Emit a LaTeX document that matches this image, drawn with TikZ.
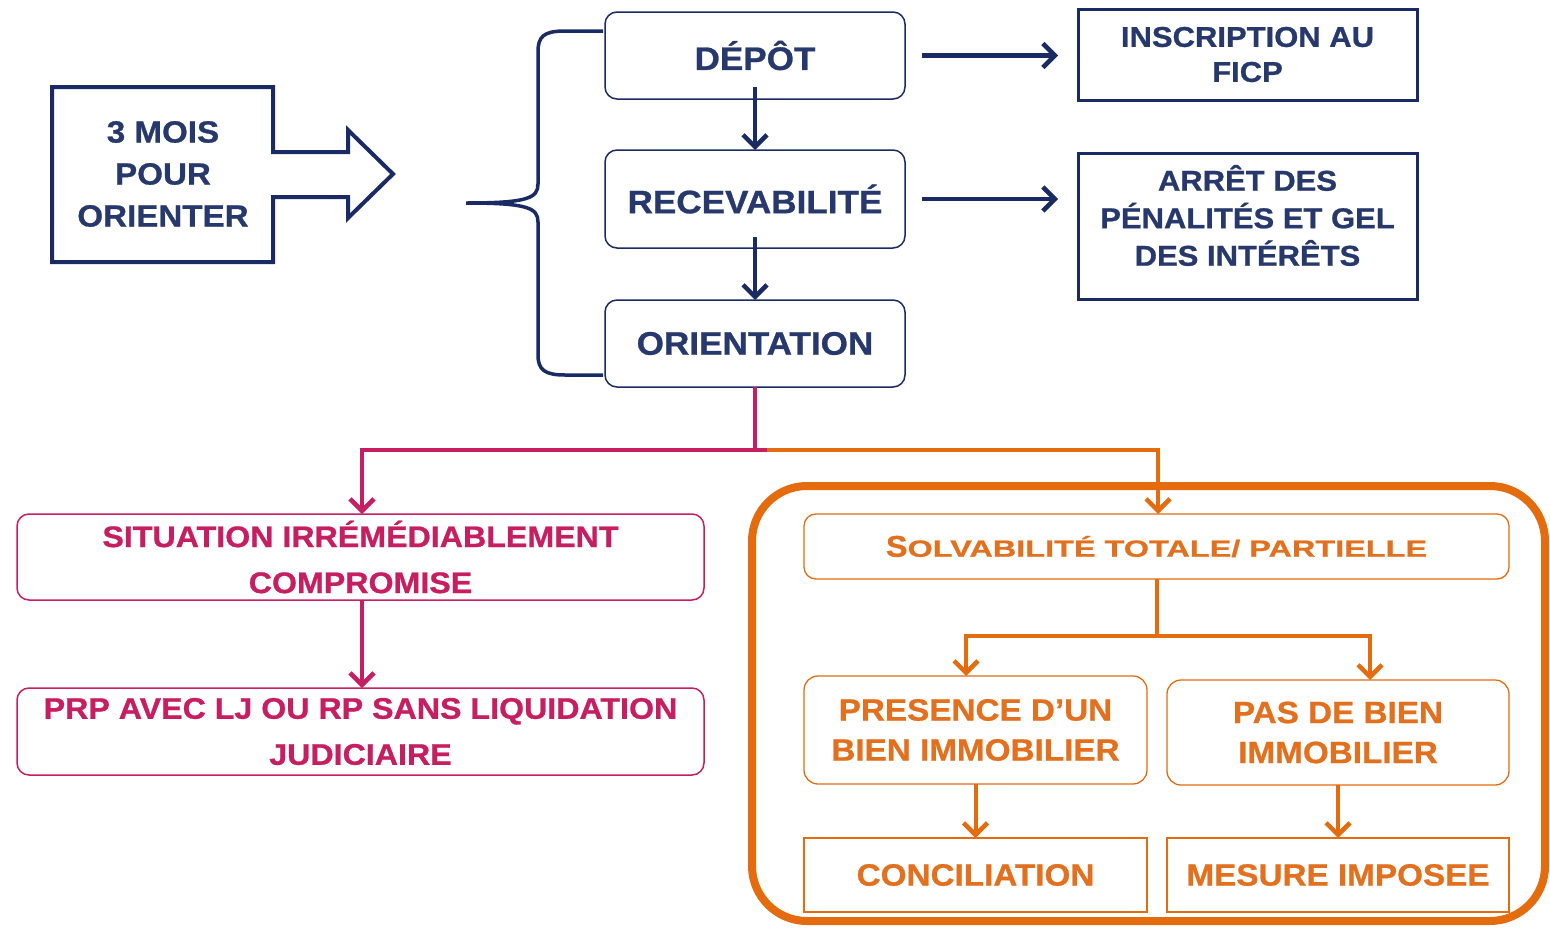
\documentclass[tikz,border=0pt]{standalone}
\usepackage{fontspec}
\setmainfont{Liberation Sans}
\newfontfamily\fB{Liberation Sans}[FakeStretch=1.08, BoldFeatures={FakeBold=0.8}]
\newfontfamily\fW{Liberation Sans}[FakeStretch=1.38, BoldFeatures={FakeBold=0.8}]
\usetikzlibrary{arrows.meta}
\definecolor{navyL}{RGB}{26,42,100}
\definecolor{navyT}{RGB}{38,56,108}
\definecolor{mag}{RGB}{198,30,96}
\definecolor{org}{RGB}{228,108,14}
\definecolor{orgT}{RGB}{226,112,30}
\tikzset{
  fs/.style 2 args={font=\fB\bfseries\fontsize{#1}{#2}\selectfont},
  basebox/.style={inner sep=0pt, outer sep=0pt, align=center},
  navybox/.style={basebox, draw=navyL, line width=1.5pt, rounded corners=12pt, text=navyT, fs={32.5}{36}, minimum width=300pt},
  navysq/.style={basebox, draw=navyL, line width=3pt, minimum width=339pt},
  navytxt/.style={basebox, text=navyT},
  magbox/.style={basebox, draw=mag, line width=1.5pt, rounded corners=12pt, text=mag, fs={29.8}{46}, minimum width=687pt},
  orgbox/.style={basebox, draw=org, line width=1.3pt, rounded corners=14pt, text=orgT, fs={30.8}{40}},
  orgsq/.style={basebox, draw=org, line width=1.3pt, text=orgT, fs={30.8}{40}},
  tipstyle/.style={-{Straight Barb[length=12pt,width=24pt,line width=4.5pt]}},
  navyarrow/.style={draw=navyL, line width=4.2pt, tipstyle},
  magline/.style={draw=mag, line width=4pt},
  magarrow/.style={magline, tipstyle},
  orgline/.style={draw=org, line width=4pt},
  orgarrow/.style={orgline, tipstyle}
}
\begin{document}
\begin{tikzpicture}[x=1pt,y=-1pt]
\useasboundingbox (0,0) rectangle (1550,927);
% left big arrow shape
\draw[navyL, line width=4pt, line join=miter]
  (52,87) -- (273,87) -- (273,152) -- (348,152) -- (348,130) -- (393,174)
  -- (348,218) -- (348,197) -- (273,197) -- (273,262) -- (52,262) -- cycle;
\node[navytxt, fs={30.7}{42}] (mois) at (163,174) {3 MOIS\\POUR\\ORIENTER};
% brace
\draw[navyL, line width=3.5pt]
  (603,31) -- (565,31) .. controls (543,31) and (538,37) .. (538,52)
  -- (538,184) .. controls (538,198) and (528,203) .. (466,203)
  .. controls (528,203) and (538,208) .. (538,222)
  -- (538,355) .. controls (538,370) and (545,375) .. (565,375) -- (603,375);
% main steps
\node[navybox, minimum height=87pt] (dep) at (755,55.5) {DÉPÔT};
\node[navybox, minimum height=98pt] (rec) at (755,199) {RECEVABILITÉ};
\node[navybox, minimum height=87pt] (ori) at (755,343.5) {ORIENTATION};
\draw[navyarrow] ([yshift=12pt]dep.south) -- (rec.north);
\draw[navyarrow] ([yshift=11pt]rec.south) -- (ori.north);
% right boxes
\node[navysq, minimum height=91pt, text=navyT, fs={28.7}{35}] (inscr) at (1247.5,54.5) {INSCRIPTION AU\\FICP};
\node[navysq, minimum height=146pt] (arret) at (1247.5,226) {};
\node[navytxt, fs={28.7}{37.5}] (arrett) at (1247.5,215.5) {ARRÊT DES\\PÉNALITÉS ET GEL\\DES INTÉRÊTS};
\draw[navyarrow] ([xshift=17pt]dep.east) -- ([xshift=-20pt]dep.east -| inscr.west);
\draw[navyarrow] ([xshift=17pt]rec.east) -- ([xshift=-20pt]rec.east -| arret.west);
% orange frame
\node[basebox, draw=org, line width=8pt, rounded corners=55pt, minimum width=793pt, minimum height=435pt] (frame) at (1148.5,703.5) {};
% magenta branch
\node[magbox, minimum height=86pt] (sit) at (360.5,557) {SITUATION IRRÉMÉDIABLEMENT\\COMPROMISE};
\node[magbox, minimum height=87pt] (prp) at (360.5,731.5) {PRP AVEC LJ OU RP SANS LIQUIDATION\\JUDICIAIRE};
\coordinate (jm) at (755,450);
\coordinate (jo) at (767,450);
\draw[magline] (ori.south) -- (jm);
\draw[magarrow] (jo) -| ([xshift=1.5pt]sit.north);
\draw[magarrow] ([xshift=1.5pt]sit.south) -- ([xshift=1.5pt]prp.north);
% orange branch
\node[orgbox, rounded corners=12pt, minimum width=705pt, minimum height=65pt] (solv) at (1156.5,546.5)
  {{\fontsize{30}{30}\selectfont S}{\fW\bfseries\fontsize{23.5}{30}\selectfont OLVABILITÉ TOTALE/ PARTIELLE}};
\draw[orgarrow] (jo) -| ([xshift=1.5pt]solv.north);
\node[orgbox, minimum width=343pt, minimum height=108pt] (pres) at (975.5,730) {PRESENCE D’UN\\BIEN IMMOBILIER};
\node[orgbox, minimum width=342pt, minimum height=105pt] (pas) at (1338,732.5) {PAS DE BIEN\\IMMOBILIER};
\coordinate (ko) at (1157,636);
\draw[orgline] ([xshift=0.5pt]solv.south) -- (ko);
\draw[orgarrow] (ko) -| ([xshift=-9.5pt]pres.north);
\draw[orgarrow] (ko) -| ([xshift=32pt]pas.north);
\node[orgsq, minimum width=343pt, minimum height=74pt] (conc) at (975.5,875) {CONCILIATION};
\node[orgsq, minimum width=342pt, minimum height=74pt] (mes) at (1338,875) {MESURE IMPOSEE};
\draw[orgarrow] (pres.south) -- (conc.north);
\draw[orgarrow] (pas.south) -- (mes.north);
\end{tikzpicture}
\end{document}
